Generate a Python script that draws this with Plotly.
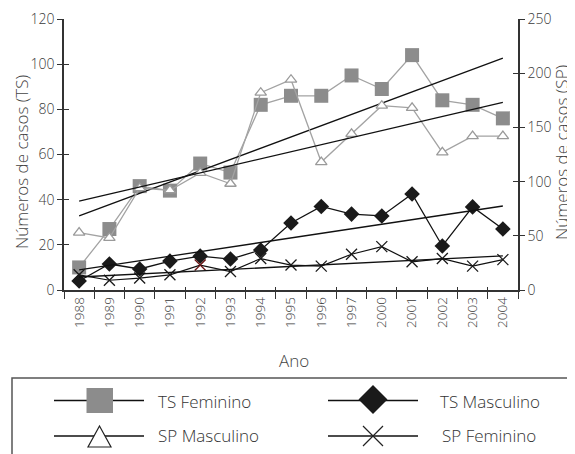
import plotly.graph_objects as go

# ---------------- data ----------------
anos = ["1988", "1989", "1990", "1991", "1992", "1993", "1994", "1995",
        "1996", "1997", "2000", "2001", "2002", "2003", "2004"]
ts_feminino = [10, 27, 46, 44, 56, 52, 82, 86, 86, 95, 89, 104, 84, 82, 76]
ts_masculino = [4, 11.5, 9.3, 12.8, 15, 13.7, 17.7, 29.7, 37, 33.6, 32.8, 42.5, 19.5, 36.8, 27]
sp_masculino = [53, 48, 94, 92, 108, 98, 182, 194, 118, 144, 170, 168, 127, 142, 142]
sp_feminino = [14, 9, 11, 14, 23, 17, 29, 23, 22, 33, 40, 26, 29, 22, 28]

# trend lines (start 1988, end 2004)
trend_x = [anos[0], anos[-1]]
trend_ts_feminino = [32.8, 102.7]
trend_sp_masculino = [82, 173]
trend_ts_masculino = [8.9, 37.2]
trend_sp_feminino = [12, 31.5]

left_ticks = [0, 20, 40, 60, 80, 100, 120]
right_ticks = [0, 50, 100, 150, 200, 250]

W, H = 575, 454
OFF = 8  # page body margin offset
FONT = "Open Sans"
AX = "#333333"
TXT = "#3a3a3a"

def px(x):
    return (x - OFF) / W

def py(y):
    return 1 - (y - OFF) / H

fig = go.Figure()

fig.add_trace(go.Scatter(
    x=anos, y=ts_feminino, mode="lines+markers", name="TS Feminino",
    line=dict(color="#a3a3a3", width=1.3),
    marker=dict(symbol="square", size=14, color="#8c8c8c", line=dict(width=0)),
    yaxis="y"))
fig.add_trace(go.Scatter(
    x=anos, y=sp_masculino, mode="lines+markers", name="SP Masculino",
    line=dict(color="#a3a3a3", width=1.3),
    marker=dict(symbol="triangle-up", size=10, color="white",
                line=dict(color="#9a9a9a", width=1.3)),
    yaxis="y2"))
fig.add_trace(go.Scatter(
    x=anos, y=ts_masculino, mode="lines+markers", name="TS Masculino",
    line=dict(color="#111111", width=1.3),
    marker=dict(symbol="diamond", size=12, color="#1a1a1a", line=dict(width=0)),
    yaxis="y"))
x_colors = ["#1a1a1a"] * len(anos)
x_colors[4] = "#6b1616"
fig.add_trace(go.Scatter(
    x=anos, y=sp_feminino, mode="lines+markers", name="SP Feminino",
    line=dict(color="#111111", width=1.2),
    marker=dict(symbol="x-thin-open", size=11, color=x_colors,
                line=dict(color=x_colors, width=1.3)),
    yaxis="y2"))

for vals, ax in [(trend_ts_feminino, "y"), (trend_sp_masculino, "y2"),
                 (trend_ts_masculino, "y"), (trend_sp_feminino, "y2")]:
    fig.add_trace(go.Scatter(x=trend_x, y=vals, mode="lines",
                             line=dict(color="#111111", width=1.3),
                             hoverinfo="skip", showlegend=False, yaxis=ax))

xdom = [px(64), px(518)]
ydom = [py(290), py(19)]
tickfont = dict(family=FONT, size=14, color=TXT, weight=300)

fig.update_layout(
    width=W, height=H,
    margin=dict(l=0, r=0, t=0, b=0, autoexpand=False),
    paper_bgcolor="white", plot_bgcolor="white",
    showlegend=False,
    font=dict(family=FONT, color=TXT),
    xaxis=dict(type="category", categoryorder="array", categoryarray=anos,
               domain=xdom, anchor="y", range=[-0.5, len(anos) - 0.5],
               tickson="boundaries", ticks="outside", ticklen=7, tickwidth=1.3,
               tickcolor=AX, showline=True, linecolor=AX, linewidth=1.5,
               tickangle=-90, tickfont=dict(family=FONT, size=13.5, color=TXT, weight=300),
               showgrid=False, zeroline=False, automargin=False),
    xaxis2=dict(overlaying="x", anchor="y", domain=xdom, range=[-0.5, len(anos) - 0.5],
                tick0=-0.5, dtick=1, ticks="inside", ticklen=3, tickwidth=1.3,
                tickcolor=AX, showticklabels=False, showgrid=False, zeroline=False,
                showline=False, automargin=False),
    yaxis=dict(domain=ydom, anchor="x", range=[0, 120], tickvals=left_ticks,
               ticks="outside", ticklen=5, tickwidth=1.3, tickcolor=AX,
               showline=True, linecolor=AX, linewidth=1.5, tickfont=tickfont,
               showgrid=False, zeroline=False, automargin=False),
    yaxis2=dict(overlaying="y", side="right", anchor="x", range=[0, 250],
                tickvals=right_ticks, ticks="outside", ticklen=5, tickwidth=1.3,
                tickcolor=AX, showline=True, linecolor=AX, linewidth=1.5,
                tickfont=tickfont, showgrid=False, zeroline=False, automargin=False),
    yaxis3=dict(overlaying="y", anchor="x", side="left", range=[0, 120],
                tickvals=left_ticks, ticks="inside", ticklen=5, tickwidth=1.3,
                tickcolor=AX, showticklabels=False, showgrid=False,
                zeroline=False, showline=False, automargin=False),
    yaxis4=dict(overlaying="y", anchor="x", side="right", range=[0, 250],
                tickvals=right_ticks, ticks="inside", ticklen=5, tickwidth=1.3,
                tickcolor=AX, showticklabels=False, showgrid=False,
                zeroline=False, showline=False, automargin=False),
)

# dummy invisible traces so the overlay axes are drawn
fig.add_trace(go.Scatter(x=[None], y=[None], xaxis="x2", yaxis="y3",
                         showlegend=False, hoverinfo="skip"))
fig.add_trace(go.Scatter(x=[None], y=[None], xaxis="x2", yaxis="y4",
                         showlegend=False, hoverinfo="skip"))

title_font = dict(family=FONT, size=17, color="#444444", weight=300)
annotations = [
    dict(text="Números de casos (TS)", x=px(21), y=py(162), textangle=-90),
    dict(text="Números de casos (SP)", x=px(562), y=py(153), textangle=-90),
    dict(text="Ano", x=px(294), y=py(360)),
]
anns = []
for a in annotations:
    a.update(xref="paper", yref="paper", showarrow=False, font=title_font,
             xanchor="center", yanchor="middle")
    anns.append(a)

leg_font = dict(family=FONT, size=17, color="#333333", weight=300)
for label, x, y in [("TS Feminino", 156, 401), ("SP Masculino", 156, 435),
                    ("TS Masculino", 438, 401), ("SP Feminino", 440, 435)]:
    anns.append(dict(text=label, x=px(x), y=py(y), xref="paper", yref="paper",
                     showarrow=False, font=leg_font, xanchor="left", yanchor="middle"))
fig.update_layout(annotations=anns)

shapes = []
# legend frame
shapes.append(dict(type="rect", xref="paper", yref="paper",
                   x0=px(12), x1=px(572), y0=py(470), y1=py(378),
                   line=dict(color="#555555", width=1.5), fillcolor="rgba(0,0,0,0)"))
# legend sample lines
for x0, x1, y in [(54, 144, 400.5), (54, 144, 436), (328, 418, 400.5), (328, 418, 436)]:
    shapes.append(dict(type="line", xref="paper", yref="paper",
                       x0=px(x0), x1=px(x1), y0=py(y), y1=py(y),
                       line=dict(color="#111111", width=1.3)))
# square
shapes.append(dict(type="rect", xref="paper", yref="paper",
                   x0=px(86.5), x1=px(113), y0=py(413), y1=py(388),
                   line=dict(width=0), fillcolor="#8c8c8c"))
# triangle
tri = "M {} {} L {} {} L {} {} Z".format(px(99.5), py(426), px(111), py(447), px(88), py(447))
shapes.append(dict(type="path", xref="paper", yref="paper", path=tri,
                   line=dict(color="#222222", width=1.2), fillcolor="white"))
# diamond
dia = "M {} {} L {} {} L {} {} L {} {} Z".format(px(373), py(385), px(387.5), py(399.5),
                                                 px(373), py(414), px(358.5), py(399.5))
shapes.append(dict(type="path", xref="paper", yref="paper", path=dia,
                   line=dict(width=0), fillcolor="#1a1a1a"))
# X
xp = "M {} {} L {} {} M {} {} L {} {}".format(px(363), py(426), px(383), py(446),
                                             px(363), py(446), px(383), py(426))
shapes.append(dict(type="path", xref="paper", yref="paper", path=xp,
                   line=dict(color="#222222", width=1.2)))
fig.update_layout(shapes=shapes)

fig.write_html("out.html")
